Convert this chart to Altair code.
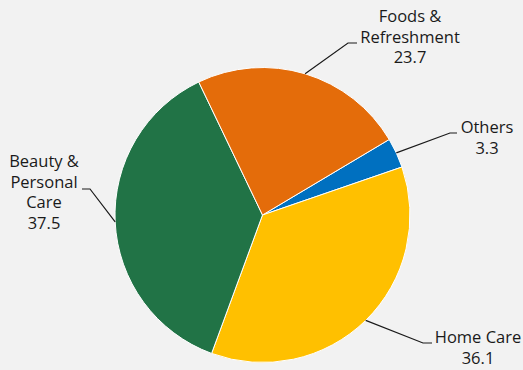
import math
import altair as alt
import pandas as pd

# ---- data ----
categories = ["Others", "Home Care", "Beauty & Personal Care", "Foods & Refreshment"]
values = [3.3, 36.1, 37.5, 23.7]
label_lines = [["Others", "3.3"], ["Home Care", "36.1"],
               ["Beauty &", "Personal", "Care", "37.5"],
               ["Foods &", "Refreshment", "23.7"]]
colors = ["#0070c0", "#ffc000", "#217346", "#e46c0a"]

# ---- layout (pixels) ----
CX, CY, R = 262.5, 215.0, 147.5
START = math.radians(59.2)
# first-line centre of label, leader elbow, leader end
label_pos = {
    "Others": (487, 128, (450, 133), (457, 133)),
    "Home Care": (478, 338, (423, 343), (432, 343)),
    "Beauty & Personal Care": (44, 162, (90, 189), (82, 189)),
    "Foods & Refreshment": (410, 17, (348, 43), (357, 43)),
}

total = sum(values)
rows, line_rows, text_rows = [], [], []
acc = START
for cat, v, lines in zip(categories, values, label_lines):
    a0 = acc
    a1 = acc + v / total * 2 * math.pi
    acc = a1
    rows.append({"cat": cat, "value": v, "t0": a0, "t1": a1})
    mid = (a0 + a1) / 2
    ex, ey = CX + R * math.sin(mid), CY - R * math.cos(mid)
    lx, ly, elbow, end = label_pos[cat]
    for i, (px, py) in enumerate([(ex, ey), elbow, end]):
        line_rows.append({"cat": cat, "i": i, "x": px, "y": py})
    text_rows.append({"cat": cat, "x": lx, "y": ly, "label": "\n".join(lines)})

df = pd.DataFrame(rows)
ldf = pd.DataFrame(line_rows)
tdf = pd.DataFrame(text_rows)

pie = alt.Chart(df).mark_arc(radius=R, stroke="white", strokeWidth=1).encode(
    theta=alt.Theta("t0:Q", scale=None),
    theta2="t1:Q",
    x=alt.value(CX),
    y=alt.value(CY),
    color=alt.Color("cat:N", scale=alt.Scale(domain=categories, range=colors), legend=None),
)

leaders = alt.Chart(ldf).mark_line(color="#1a1a1a", strokeWidth=1.2).encode(
    x=alt.X("x:Q", scale=None),
    y=alt.Y("y:Q", scale=None),
    detail="cat:N",
    order="i:Q",
)

texts = alt.Chart(tdf).mark_text(
    align="center", baseline="middle", lineBreak="\n", lineHeight=20.5,
    font="Open Sans", fontSize=16.5, color="#1a1a1a",
).encode(
    x=alt.X("x:Q", scale=None),
    y=alt.Y("y:Q", scale=None),
    text="label:N",
)

chart = alt.layer(pie, leaders, texts).properties(
    width=523, height=370, autosize="none", padding=0, background="#f2f2f2"
).configure_view(stroke=None)

chart.save("out.html", embed_options={"renderer": "svg", "actions": False})
